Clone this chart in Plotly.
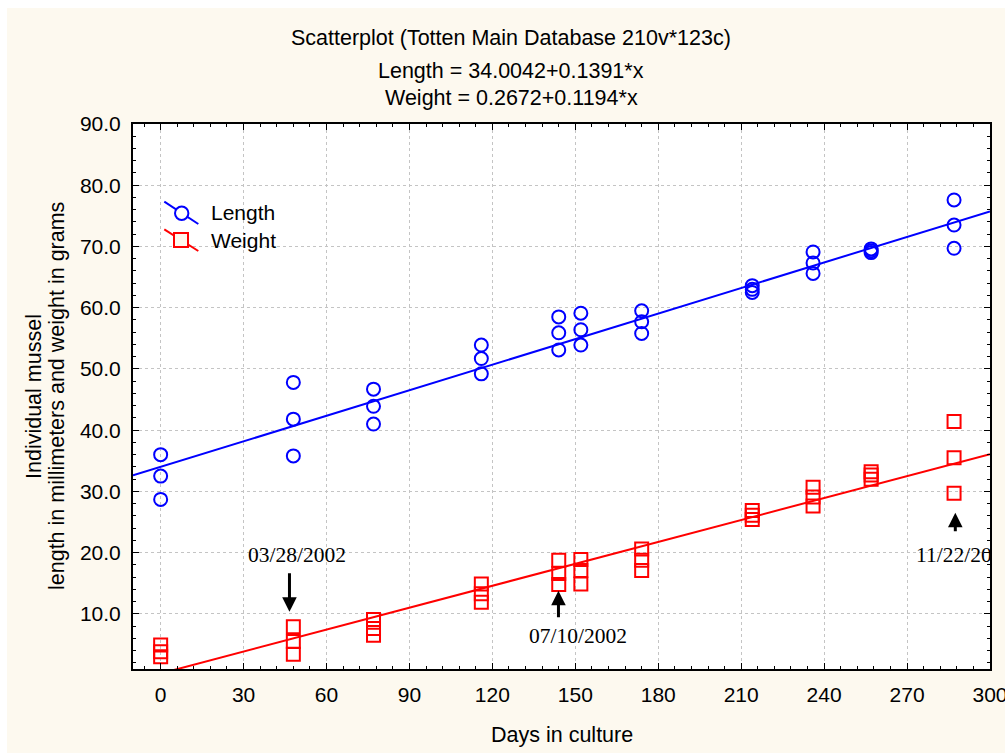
import plotly.graph_objects as go

# ---------------- data ----------------
days = [0, 48, 77, 116, 144, 152, 174, 214, 236, 257, 287]
length_mm = [
    [36.0, 32.5, 28.7],
    [47.8, 41.8, 35.8],
    [46.7, 43.9, 41.0],
    [53.9, 51.7, 49.2],
    [58.5, 55.9, 53.1],
    [59.1, 56.4, 53.9],
    [59.5, 57.7, 55.8],
    [63.6, 63.0, 62.5],
    [69.1, 67.3, 65.6],
    [69.6, 69.3, 69.0],
    [77.6, 73.5, 69.7],
]
weight_g = [
    [4.9, 3.8, 3.0],
    [7.9, 5.5, 3.4],
    [9.1, 7.6, 6.5],
    [14.9, 13.3, 11.9],
    [18.75, 16.6, 14.8],
    [18.9, 17.1, 14.9],
    [20.6, 18.75, 17.1],
    [26.9, 26.1, 25.4],
    [30.7, 29.1, 27.6],
    [33.2, 32.7, 32.0],
    [41.4, 35.5, 29.7],
]
length_fit = [34.0042, 0.1391]   # intercept, slope
weight_fit = [0.2672, 0.1194]
x_ticks = [0, 30, 60, 90, 120, 150, 180, 210, 240, 270, 300]
y_ticks = [10, 20, 30, 40, 50, 60, 70, 80, 90]
x_range = [-10, 300]
y_range = [1, 90]

title_lines = ["Scatterplot (Totten Main Database 210v*123c)",
               "Length = 34.0042+0.1391*x",
               "Weight = 0.2672+0.1194*x"]
y_title_lines = ["Individual mussel", "length in millimeters and weight in grams"]
x_title = "Days in culture"

# date notes: label, text x, text y, anchor, arrow tip x, arrow tip y, arrow tail offset (px)
notes = [
    ("03/28/2002", 49.3, 19.6, "center", 46.6, 10.36, -40),
    ("07/10/2002", 151.1, 6.44, "center", 143.9, 13.79, 28),
    ("11/22/20", 272.6, 19.6, "left", 287.45, 26.52, 20),
]

SANS = "Liberation Sans, Arial, sans-serif"
SERIF = "Liberation Serif, Times New Roman, serif"
BLUE = "#0000FF"
RED = "#FF0000"
CREAM = "#FDF9EF"

def flat_x(groups):
    return [d for d, g in zip(days, groups) for _ in g]

def flat_y(groups):
    return [v for g in groups for v in g]

fig = go.Figure()

fig.add_trace(go.Scatter(
    x=flat_x(length_mm), y=flat_y(length_mm), mode="markers", name="Length",
    marker=dict(symbol="circle-open", size=13, color=BLUE, line=dict(width=2, color=BLUE)),
    showlegend=False))
fig.add_trace(go.Scatter(
    x=flat_x(weight_g), y=flat_y(weight_g), mode="markers", name="Weight",
    marker=dict(symbol="square-open", size=13, color=RED, line=dict(width=2, color=RED)),
    showlegend=False))

fit_x = list(x_range)
fig.add_trace(go.Scatter(
    x=fit_x, y=[length_fit[0] + length_fit[1] * v for v in fit_x], mode="lines",
    line=dict(color=BLUE, width=2), showlegend=False, hoverinfo="skip"))
fig.add_trace(go.Scatter(
    x=fit_x, y=[weight_fit[0] + weight_fit[1] * v for v in fit_x], mode="lines",
    line=dict(color=RED, width=2), showlegend=False, hoverinfo="skip"))

# ---------------- layout geometry ----------------
W, H = 1005, 753
ML, MR, MT, MB = 133, 15, 124, 84
PW, PH = W - ML - MR, H - MT - MB


def px(sx):
    return (sx - ML) / PW


def py(sy):
    return (MT + PH - sy) / PH


annotations = []
# title lines
for txt, sy in zip(title_lines, [38, 71, 98]):
    annotations.append(dict(text=txt, xref="paper", yref="paper", x=px(511), y=py(sy),
                            xanchor="center", yanchor="middle", showarrow=False,
                            font=dict(family=SANS, size=21.5, color="black")))
# y axis title lines
for txt, sx in zip(y_title_lines, [33.5, 56.5]):
    annotations.append(dict(text=txt, xref="paper", yref="paper", x=px(sx), y=0.5,
                            xanchor="center", yanchor="middle", textangle=-90,
                            showarrow=False, font=dict(family=SANS, size=21.5, color="black")))
# x axis title
annotations.append(dict(text=x_title, xref="paper", yref="paper", x=0.5, y=py(735),
                        xanchor="center", yanchor="middle", showarrow=False,
                        font=dict(family=SANS, size=21.5, color="black")))
# date notes
for label, tx, ty, anc, ax_, ay_, off in notes:
    annotations.append(dict(text=label, x=tx, y=ty, xref="x", yref="y", xanchor=anc,
                            yanchor="middle", showarrow=False,
                            font=dict(family=SERIF, size=21.5, color="black")))
    annotations.append(dict(text="", x=ax_, y=ay_, xref="x", yref="y", showarrow=True,
                            ax=0, ay=off, arrowhead=2, arrowsize=0.97, arrowwidth=3,
                            arrowcolor="black", standoff=0))
# legend labels
for txt, sy in [("Length", 213), ("Weight", 240)]:
    annotations.append(dict(text=txt, xref="paper", yref="paper", x=px(209), y=py(sy),
                            xanchor="left", yanchor="middle", showarrow=False,
                            font=dict(family=SANS, size=21, color="black")))

shapes = [
    # white page border strips (top and left)
    dict(type="rect", xref="paper", yref="paper", x0=px(0), x1=px(W), y0=py(8), y1=py(0),
         line=dict(width=0), fillcolor="white", layer="below"),
    dict(type="rect", xref="paper", yref="paper", x0=px(0), x1=px(7), y0=py(H), y1=py(0),
         line=dict(width=0), fillcolor="white", layer="below"),
    # legend glyphs
    dict(type="line", xref="paper", yref="paper", x0=px(164.3), y0=py(201.7), x1=px(198.3), y1=py(224),
         line=dict(color=BLUE, width=2)),
    dict(type="line", xref="paper", yref="paper", x0=px(164.3), y0=py(229.3), x1=px(198.3), y1=py(251),
         line=dict(color=RED, width=2)),
    dict(type="circle", xref="paper", yref="paper", x0=px(175), y0=py(206.6), x1=px(188.4), y1=py(220),
         line=dict(color=BLUE, width=2), fillcolor="#FFFFFF"),
    dict(type="rect", xref="paper", yref="paper", x0=px(174), y0=py(233), x1=px(188), y1=py(247),
         line=dict(color=RED, width=2), fillcolor="#FFF8EE"),
]

axis_common = dict(
    showline=True, linecolor="black", linewidth=2, mirror="ticks",
    ticks="inside", ticklen=6, tickwidth=1, tickcolor="black",
    showgrid=True, gridcolor="#C4C4C4", gridwidth=1, griddash="dot",
    zeroline=False, tickfont=dict(family=SANS, size=21, color="black"),
    ticklabeloverflow="allow", automargin=False,
)

fig.update_layout(
    width=W, height=H, autosize=False,
    margin=dict(l=ML, r=MR, t=MT, b=MB, pad=0, autoexpand=False),
    paper_bgcolor=CREAM, plot_bgcolor="white",
    showlegend=False,
    xaxis=dict(range=x_range, tickmode="array", tickvals=x_ticks,
               ticktext=[str(v) for v in x_ticks], ticklabelstandoff=6,
               minor=dict(dtick=6, tick0=0, ticks="inside", ticklen=3, tickcolor="black", showgrid=False),
               **axis_common),
    yaxis=dict(range=y_range, tickmode="array", tickvals=y_ticks,
               ticktext=[f"{v:.1f}" for v in y_ticks], ticklabelstandoff=6,
               minor=dict(dtick=2, tick0=0, ticks="inside", ticklen=3, tickcolor="black", showgrid=False),
               **axis_common),
    annotations=annotations,
    shapes=shapes,
)

post = (
    "document.documentElement.style.overflow='hidden';"
    "document.body.style.margin='0';"
    "document.body.style.overflow='hidden';"
)

fig.write_html("out.html", config={"displayModeBar": False}, post_script=post)
